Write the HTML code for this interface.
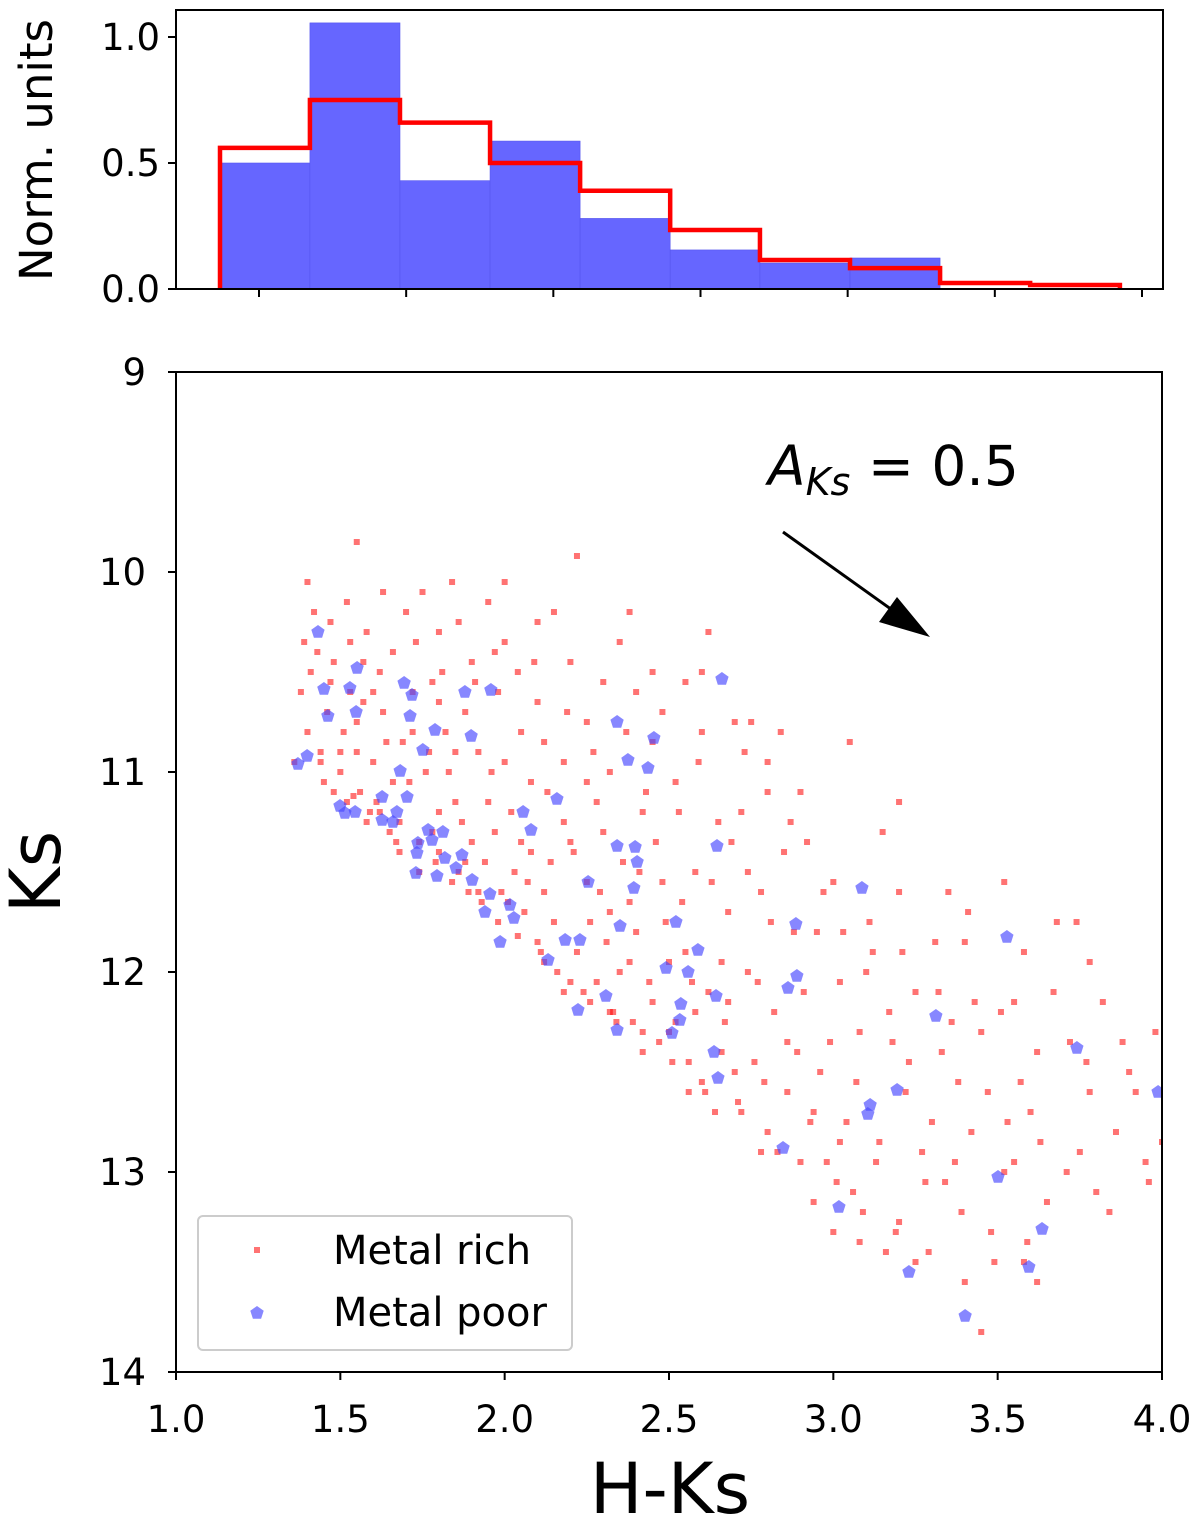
<!DOCTYPE html>
<html><head><meta charset="utf-8">
<style>
html,body{margin:0;padding:0;background:#fff;}
svg{display:block;font-family:"DejaVu Sans","Liberation Sans",sans-serif;}
</style></head>
<body>
<svg id="chart" width="1200" height="1523" viewBox="0 0 1200 1523" xmlns="http://www.w3.org/2000/svg">
<g id="hist"></g>
<g id="main"></g>
</svg>
<script>
// ---- Histogram data ----
const binEdges = [0.8675,1.173,1.479,1.785,2.091,2.397,2.702,3.008,3.314,3.620,3.925];
const poorHist = [0.50,1.056,0.43,0.587,0.28,0.155,0.103,0.123,0,0];
const richHist = [0.56,0.75,0.66,0.50,0.39,0.234,0.115,0.083,0.024,0.016];
const histYTicks = [0.0,0.5,1.0];
const histXTicks = [1.0,1.5,2.0,2.5,3.0,3.5,4.0];
// ---- Scatter data ----
const richX = [1.40,1.42,1.38,1.40,1.36,1.45,1.48,1.43,1.46,1.50,1.39,1.47,
1.52,1.55,1.58,1.62,1.55,1.60,1.52,1.58,1.65,1.68,1.63,1.70,1.57,1.66,1.53,1.61,1.69,1.72,
1.75,1.80,1.78,1.82,1.76,1.85,1.78,1.88,1.84,1.90,1.86,1.92,1.74,1.80,1.88,1.83,1.77,1.90,
1.95,2.00,1.98,2.05,1.96,2.02,2.08,1.99,2.06,2.10,1.93,2.04,2.10,2.08,1.97,2.03,2.10,
2.15,2.22,2.20,2.25,2.18,2.28,2.20,2.25,2.15,2.22,2.28,2.18,2.30,2.12,2.26,2.14,2.30,
2.35,2.40,2.45,2.32,2.42,2.36,2.48,2.40,2.35,2.45,2.42,2.32,2.48,2.38,2.46,2.50,
2.55,2.62,2.60,2.52,2.65,2.58,2.68,2.55,2.62,2.52,2.66,2.60,2.70,2.56,2.68,2.54,
2.75,2.80,2.72,2.85,2.78,2.88,2.74,2.82,2.76,2.86,2.80,2.90,2.72,2.84,2.90,2.78,
2.92,3.00,3.05,2.95,3.02,3.08,2.96,3.04,2.98,3.06,3.00,3.10,3.08,2.94,
3.15,3.20,3.12,3.25,3.18,3.22,3.14,3.28,3.20,3.25,3.30,3.16,3.20,
3.35,3.40,3.32,3.45,3.38,3.42,3.34,3.48,3.40,3.45,3.36,
3.52,3.58,3.55,3.62,3.60,3.55,3.65,3.58,3.62,3.68,3.52,
3.72,3.78,3.75,3.80,3.82,3.86,3.90,3.95,3.98,4.00,3.78,
1.44,1.50,1.56,1.62,1.68,1.74,1.80,1.86,1.92,1.98,2.04,2.12,2.20,2.26,2.34,2.42,1.55,1.60,1.66,1.72,1.80,1.85,1.95,2.00,2.05,2.12,2.18,2.25,2.32,2.38,2.44,2.50,2.56,2.64,2.70,2.58,2.66,2.74,2.80,2.86,2.94,3.02,1.48,1.53,1.63,1.84,2.00,2.38,2.45,2.60,
1.41,1.44,1.47,1.51,1.54,1.57,1.59,1.64,1.67,1.71,1.73,1.79,1.81,1.87,1.89,1.91,1.94,1.97,
2.01,2.07,2.09,2.11,2.13,2.16,2.19,2.21,2.24,2.27,2.29,2.31,2.33,2.37,2.39,2.41,2.43,2.47,2.49,
2.51,2.53,2.57,2.59,2.61,2.63,2.67,2.69,2.71,2.73,2.77,2.79,2.81,2.83,2.87,2.89,2.91,2.93,2.97,2.99,
3.01,3.03,3.07,3.09,3.11,3.13,3.17,3.19,3.21,3.23,3.27,3.29,3.31,3.33,3.37,3.39,3.41,3.43,3.47,3.49,
3.51,3.53,3.57,3.59,3.63,3.67,3.71,3.74,3.77,3.84,3.88,3.92,3.96];
const richY = [10.05,10.2,10.6,10.8,10.95,11.05,11.1,10.4,10.7,10.9,10.35,10.55,
10.15,9.85,10.3,10.5,10.75,10.95,11.15,11.25,11.3,11.4,10.7,10.2,10.45,11.05,10.6,11.15,10.85,10.6,
10.1,10.3,10.55,10.8,11.0,11.15,11.3,11.45,11.55,10.45,10.25,10.9,11.5,11.2,10.7,11.0,10.9,11.35,
10.15,10.35,10.6,10.8,11.0,11.2,11.4,11.6,11.7,11.85,11.65,10.5,10.25,11.05,11.3,11.5,10.65,
10.2,9.92,10.45,10.75,10.95,11.15,11.35,11.55,11.75,11.9,12.05,12.1,10.55,10.85,11.75,11.45,11.3,
10.35,10.6,10.85,11.0,11.2,11.45,11.55,11.8,12.0,12.15,12.3,12.2,10.7,11.65,11.35,11.95,
10.55,10.3,10.8,11.05,11.25,11.5,11.7,11.9,12.1,12.25,12.4,12.55,10.75,12.45,12.15,11.65,
10.75,10.95,11.2,11.4,11.6,11.8,12.0,12.2,12.45,12.6,12.8,12.95,12.7,10.8,11.1,12.9,
11.35,11.55,10.85,11.8,12.05,12.3,12.5,12.75,12.95,13.1,13.3,12.0,13.35,13.15,
11.3,11.6,11.9,12.1,12.35,12.6,12.85,13.05,13.25,13.45,12.75,13.4,11.15,
11.6,11.85,12.1,12.3,12.55,12.8,13.05,13.3,13.55,13.8,12.25,
11.55,11.9,12.15,12.4,12.7,12.95,13.15,13.45,13.55,11.75,13.0,
12.35,12.6,12.9,13.1,12.15,12.8,12.5,12.95,12.3,12.85,11.95,
10.9,11.0,11.1,11.2,11.25,11.35,11.4,11.5,11.6,11.75,11.82,11.95,12.05,12.15,12.25,12.4,10.9,10.6,10.4,10.8,10.65,10.9,11.15,10.95,11.35,11.6,11.25,11.05,11.7,11.95,12.05,12.3,12.6,12.7,12.5,12.2,11.95,11.5,11.1,12.35,12.7,12.85,10.45,10.35,10.1,10.05,10.05,10.2,10.5,10.5,
10.5,10.95,10.25,10.8,11.12,10.65,11.2,10.85,11.35,11.05,10.35,11.45,10.5,11.25,11.6,10.55,11.45,10.4,
11.65,11.55,10.45,11.9,11.1,12.0,10.7,11.4,12.1,10.9,11.6,11.85,12.2,10.8,12.25,11.5,11.1,12.35,11.75,
12.45,11.2,12.05,10.95,12.6,11.55,12.25,11.35,12.65,10.9,12.05,12.55,11.75,12.9,11.25,12.4,12.1,12.75,11.6,12.35,
13.05,11.8,12.55,13.2,11.75,12.95,12.2,13.3,11.9,12.45,12.9,13.4,11.85,12.4,12.95,13.2,11.7,12.15,12.6,13.45,
12.2,12.75,12.55,13.35,12.85,12.1,13.0,11.75,12.45,13.2,12.35,12.6,13.05];
const poorX = [1.432,1.450,1.551,1.529,1.462,1.548,1.371,1.399,1.694,1.718,1.712,1.788,1.879,1.958,1.898,1.751,1.682,1.627,1.499,1.514,1.545,1.627,1.660,1.672,1.703,1.736,1.767,1.779,1.733,1.812,1.818,1.852,1.870,1.730,1.794,1.901,1.955,1.940,1.986,2.016,2.028,2.056,2.080,2.159,2.132,2.184,2.229,2.223,2.254,2.342,2.375,2.436,2.454,2.342,2.397,2.403,2.393,2.351,2.308,2.342,2.521,2.491,2.558,2.536,2.533,2.509,2.588,2.643,2.646,2.661,2.637,2.649,2.847,2.886,2.889,2.862,3.087,3.112,3.105,3.194,3.312,3.017,3.230,3.401,3.528,3.501,3.595,3.635,3.741,3.988];
const poorY = [10.30,10.585,10.48,10.58,10.72,10.70,10.96,10.92,10.555,10.615,10.72,10.79,10.60,10.59,10.82,10.89,10.995,11.125,11.17,11.205,11.20,11.24,11.25,11.20,11.125,11.355,11.29,11.34,11.405,11.30,11.43,11.48,11.415,11.505,11.52,11.54,11.61,11.70,11.85,11.665,11.73,11.20,11.29,11.135,11.94,11.84,11.84,12.19,11.55,10.75,10.94,10.98,10.83,11.37,11.375,11.45,11.58,11.77,12.12,12.29,11.75,11.98,12.00,12.16,12.24,12.305,11.89,12.12,11.37,10.535,12.40,12.53,12.88,11.76,12.02,12.08,11.58,12.665,12.71,12.59,12.22,13.175,13.50,13.72,11.825,13.025,13.475,13.285,12.38,12.60];
const xTicks = [1.0,1.5,2.0,2.5,3.0,3.5,4.0];
const yTicks = [9,10,11,12,13,14];

const NS='http://www.w3.org/2000/svg';
function mk(parent,tag,attrs){const e=document.createElementNS(NS,tag);for(const k in attrs)e.setAttribute(k,attrs[k]);parent.appendChild(e);return e;}

// Histogram axes
const hL=176,hR=1163,hT=10,hB=289;
const hx=v=>259+(v-1)*294.33;
const hy=v=>hB-v*252;
const hist=document.getElementById('hist');
for(let i=0;i<poorHist.length;i++){
  if(poorHist[i]<=0) continue;
  const r=mk(hist,'rect',{x:hx(binEdges[i]),y:hy(poorHist[i]),width:hx(binEdges[i+1])-hx(binEdges[i]),height:hB-hy(poorHist[i]),fill:'#6666ff',stroke:'#5555ee','stroke-width':0.6});
  
  
}
let d='M'+hx(binEdges[0])+','+hB;
for(let i=0;i<richHist.length;i++){d+=' L'+hx(binEdges[i])+','+hy(richHist[i])+' L'+hx(binEdges[i+1])+','+hy(richHist[i]);}
d+=' L'+hx(binEdges[binEdges.length-1])+','+hB;
const st=mk(hist,'path',{d:d,fill:'none',stroke:'#ff0000','stroke-width':4.5,'stroke-linejoin':'miter'});


const hf=mk(hist,'rect',{x:hL,y:hT,width:hR-hL,height:hB-hT,fill:'none',stroke:'#000','stroke-width':2});


histYTicks.forEach(v=>{
  mk(hist,'line',{x1:hL-8,x2:hL,y1:hy(v),y2:hy(v),stroke:'#000','stroke-width':2});
  const t=mk(hist,'text',{x:hL-16,y:hy(v)+13,'text-anchor':'end','font-size':37});
  t.textContent=v.toFixed(1);
  
  
});
histXTicks.forEach(v=>{mk(hist,'line',{x1:hx(v),x2:hx(v),y1:hB,y2:hB+8,stroke:'#000','stroke-width':2});});
const hyl=mk(hist,'text',{x:52,y:150,'text-anchor':'middle','font-size':45,transform:'rotate(-90 52 150)'});
hyl.textContent='Norm. units';



// Main axes
const mL=176,mR=1162,mT=372,mB=1372;
const sx=v=>mL+(v-1)*(mR-mL)/3;
const sy=v=>mT+(v-9)*200;
const main=document.getElementById('main');
const clip=mk(main,'clipPath',{id:'mc'});mk(clip,'rect',{x:mL,y:mT,width:mR-mL,height:mB-mT});
const pts=mk(main,'g',{'clip-path':'url(#mc)'});
for(let i=0;i<richX.length;i++){
  const r=mk(pts,'rect',{x:sx(richX[i])-3,y:sy(richY[i])-3,width:6,height:6,fill:'rgba(255,0,0,0.55)'});
  
  
}
function pent(cx,cy,r){let p=[];for(let k=0;k<5;k++){const a=-Math.PI/2+k*2*Math.PI/5;p.push((cx+r*Math.cos(a)).toFixed(1)+','+(cy+r*Math.sin(a)).toFixed(1));}return p.join(' ');}
for(let i=0;i<poorX.length;i++){
  const p=mk(pts,'polygon',{points:pent(sx(poorX[i]),sy(poorY[i]),7),fill:'rgba(70,70,255,0.65)'});
  
  
}
const mf=mk(main,'rect',{x:mL,y:mT,width:mR-mL,height:mB-mT,fill:'none',stroke:'#000','stroke-width':2});


xTicks.forEach(v=>{
  mk(main,'line',{x1:sx(v),x2:sx(v),y1:mB,y2:mB+8,stroke:'#000','stroke-width':2});
  const t=mk(main,'text',{x:sx(v),y:mB+60,'text-anchor':'middle','font-size':37});
  t.textContent=v.toFixed(1);
  
  
});
yTicks.forEach(v=>{
  mk(main,'line',{x1:mL-8,x2:mL,y1:sy(v),y2:sy(v),stroke:'#000','stroke-width':2});
  const t=mk(main,'text',{x:mL-30,y:sy(v)+13,'text-anchor':'end','font-size':37});
  t.textContent=String(v);
  
  
});
const xl=mk(main,'text',{x:670,y:1513,'text-anchor':'middle','font-size':70});
xl.textContent='H-Ks';


const yl=mk(main,'text',{x:60,y:872,'text-anchor':'middle','font-size':70,transform:'rotate(-90 60 872)'});
yl.textContent='Ks';


// annotation
const an=mk(main,'text',{x:768,y:485,'font-size':55});


an.innerHTML='<tspan font-style="italic">A</tspan><tspan font-style="italic" font-size="38" dy="10">Ks</tspan><tspan dy="-10"> = 0.5</tspan>';
const ar=mk(main,'line',{x1:783,y1:532,x2:895,y2:612,stroke:'#000','stroke-width':3});


const ah=mk(main,'polygon',{points:'930,637 879,622 897,597',fill:'#000'});


// legend
const lg=mk(main,'g',{});


mk(lg,'rect',{x:198,y:1216,width:374,height:134,rx:5,fill:'rgba(255,255,255,0.85)',stroke:'#cccccc','stroke-width':2});
const l1=mk(lg,'rect',{x:254,y:1247,width:6,height:6,fill:'rgba(255,0,0,0.55)'});


const t1=mk(lg,'text',{x:333,y:1264,'font-size':40});t1.textContent='Metal rich';


const l2=mk(lg,'polygon',{points:pent(257,1313,7),fill:'rgba(70,70,255,0.65)'});


const t2=mk(lg,'text',{x:333,y:1326,'font-size':40});t2.textContent='Metal poor';


</script>
</body></html>
